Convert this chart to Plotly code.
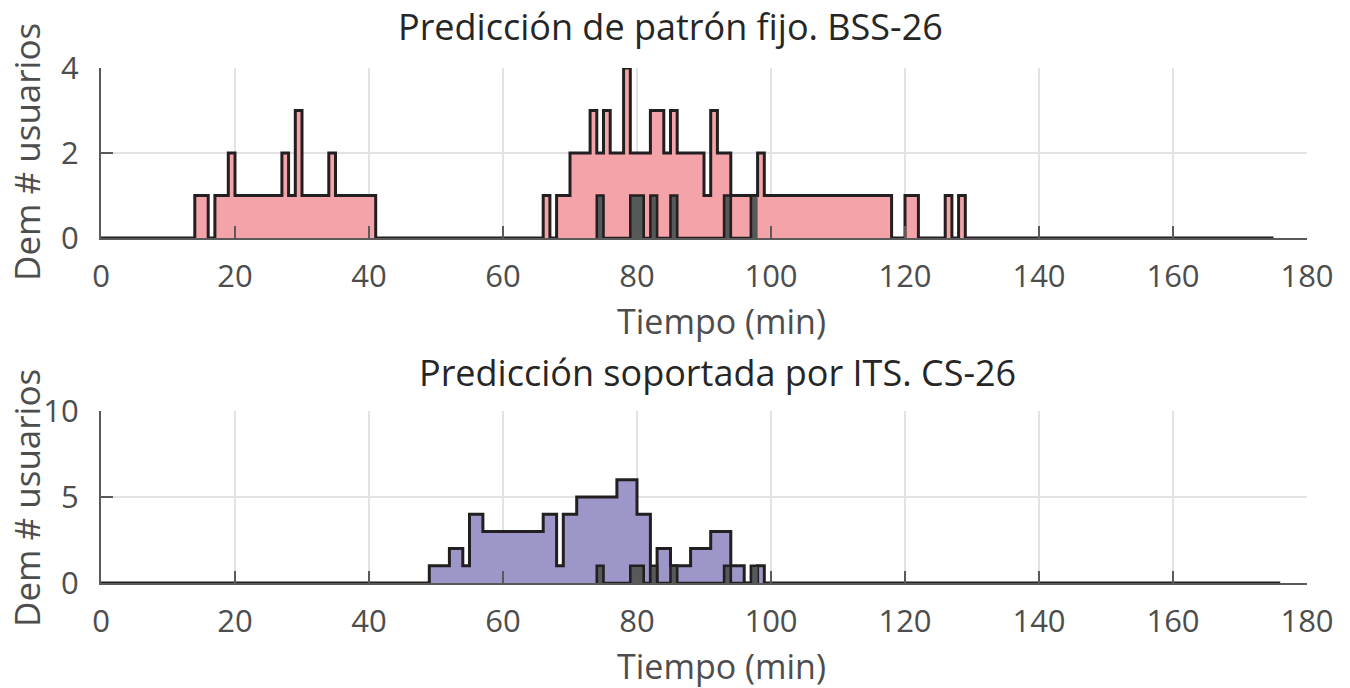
import plotly.graph_objects as go

# ---------------- data ----------------
# step series: value held from edge[i] to edge[i+1]
top_edges = [0, 14, 16, 17, 19, 20, 27, 28, 29, 30, 34, 35, 41, 66, 67, 68, 70, 73, 74, 75, 76, 78,
             79, 82, 84, 85, 86, 90, 91, 92, 94, 98, 99, 118, 120, 122, 126, 127, 128, 129, 175]
top_levels = [0, 1, 0, 1, 2, 1, 2, 1, 3, 1, 2, 1, 0, 1, 0, 1, 2, 3, 2, 3, 2, 4,
              2, 3, 2, 3, 2, 1, 3, 2, 1, 2, 1, 0, 1, 0, 1, 0, 1, 0]

bot_edges = [0, 49, 52, 54, 55, 57, 66, 68, 69, 71, 77, 80, 82, 83, 85, 88, 91, 94, 96, 98, 99, 176]
bot_levels = [0, 1, 2, 1, 4, 3, 4, 1, 4, 5, 6, 4, 0, 2, 1, 2, 3, 1, 0, 1, 0]

# observed (dark) demand, same in both panels
obs_edges = [74, 75, 79, 81, 82, 83, 85, 86, 93, 94, 97, 98]
obs_levels = [1, 0, 1, 0, 1, 0, 1, 0, 1, 0, 1]

titles = ["Predicción de patrón fijo. BSS-26", "Predicción soportada por ITS. CS-26"]
xlabel = "Tiempo (min)"
ylabel = "Dem # usuarios"
x_ticks = [0, 20, 40, 60, 80, 100, 120, 140, 160, 180]
y_ticks_top = [0, 2, 4]
y_ticks_bot = [0, 5, 10]

# ---------------- styling ----------------
W, H = 1350, 688
FONT = "Open Sans"
EDGE = "#231f20"
PINK = "#f4a3a8"
PURPLE = "#9d96c8"
DARK = "#555959"
AX = "#5a5a5a"
GRID = "#e3e3e3"
TXT = "#4d4d4d"


def px(x):
    return x / W


def py(y):
    return 1 - y / H


def step_xy(edges, levels):
    return list(edges), list(levels) + [levels[-1]]


fig = go.Figure()

for row, (edges, levels, col) in enumerate([(top_edges, top_levels, PINK), (bot_edges, bot_levels, PURPLE)]):
    xa = "x" if row == 0 else "x2"
    ya = "y" if row == 0 else "y2"
    xs, ys = step_xy(edges, levels)
    fig.add_trace(go.Scatter(x=xs, y=ys, mode="lines", line=dict(shape="hv", color=EDGE, width=3),
                             fill="tozeroy", fillcolor=col, xaxis=xa, yaxis=ya, hoverinfo="skip",
                             showlegend=False))
    ox, oy = step_xy(obs_edges, obs_levels)
    ox = [ox[0]] + ox
    oy = [0] + oy
    fig.add_trace(go.Scatter(x=ox, y=oy, mode="lines", line=dict(shape="hv", color=EDGE, width=2.6),
                             fill="tozeroy", fillcolor=DARK, xaxis=xa, yaxis=ya, hoverinfo="skip",
                             showlegend=False))

xdom = [px(101), px(1307)]
common_x = dict(range=[0, 180], tickvals=x_ticks, showgrid=True, gridcolor=GRID, gridwidth=2,
                showline=True, linecolor=AX, linewidth=2, ticks="inside", ticklen=12, tickwidth=2,
                tickcolor=AX, zeroline=False, tickfont=dict(family=FONT, size=31, color=TXT),
                ticklabelstandoff=10, domain=xdom, automargin=False)
common_y = dict(showgrid=True, gridcolor=GRID, gridwidth=2, showline=True, linecolor=AX, linewidth=2,
                ticks="inside", ticklen=12, tickwidth=2, tickcolor=AX, zeroline=False,
                tickfont=dict(family=FONT, size=31, color=TXT), ticklabelstandoff=14, automargin=False)

fig.update_layout(
    width=W, height=H, margin=dict(l=0, r=0, t=0, b=0, autoexpand=False),
    paper_bgcolor="white", plot_bgcolor="white", showlegend=False,
    xaxis=dict(**common_x, anchor="y"),
    yaxis=dict(**common_y, range=[0, 4], tickvals=y_ticks_top, domain=[py(238), py(68)], anchor="x"),
    xaxis2=dict(**common_x, anchor="y2"),
    yaxis2=dict(**common_y, range=[0, 10], tickvals=y_ticks_bot, domain=[py(583), py(411)], anchor="x2"),
)

ann = [
    (titles[0], 670, 27, 0, "#262626", 36),
    (titles[1], 718, 372, 0, "#262626", 36),
    (xlabel, 721, 321, 0, TXT, 34),
    (xlabel, 721, 666, 0, TXT, 34),
    (ylabel, 27, 152, -90, TXT, 35),
    (ylabel, 27, 498, -90, TXT, 35),
]
for text, x, y, ang, c, s in ann:
    fig.add_annotation(text=text, x=px(x), y=py(y), xref="paper", yref="paper", showarrow=False,
                       xanchor="center", yanchor="middle", textangle=ang,
                       font=dict(family=FONT, size=s, color=c))

fig.write_html("out.html")
